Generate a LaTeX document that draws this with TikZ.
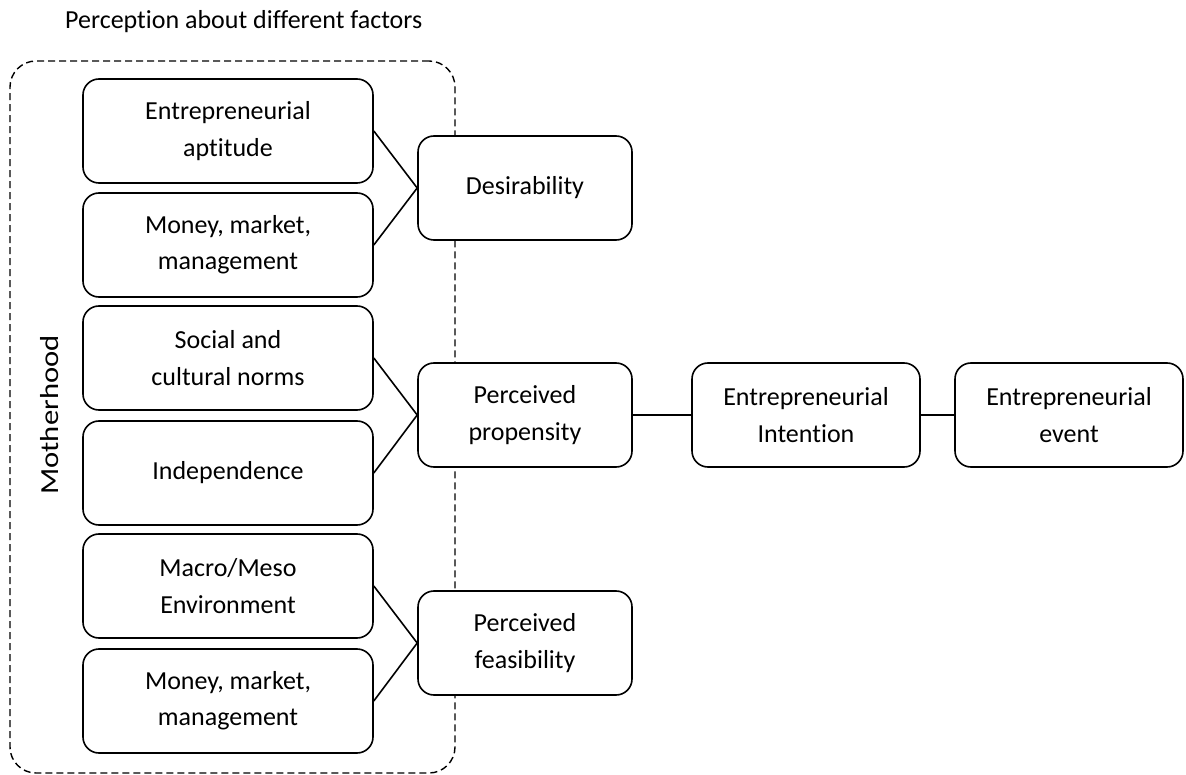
\documentclass[tikz,border=0pt]{standalone}
\usepackage{fontspec}
\setmainfont{Carlito}[Ligatures=NoCommon]
\begin{document}
\begin{tikzpicture}[x=1pt,y=-1pt,
  txt/.style={font=\fontsize{26}{36.3}\selectfont, align=center, inner sep=0pt},
  box/.style={txt, draw, line width=1.6pt, fill=white, rounded corners=16pt, minimum height=104pt},
  lbox/.style={box, minimum width=290pt},
  rbox/.style={box, minimum width=214pt},
  frame/.style={draw, line width=1.4pt, dash pattern=on 7pt off 4pt, rounded corners=26pt, minimum width=445pt, minimum height=712pt, inner sep=0pt},
  link/.style={line width=1.6pt}]
\useasboundingbox (0,0) rectangle (1186,775);
\node[frame] (frame) at (232.5,417) {};
\node[txt, anchor=base west] (title) at (65,29) {Perception about different factors};
\node[txt, rotate=90] (mother) at (50,415) {\scalebox{1.18}[1]{Motherhood}};
\node[lbox] (b1) at (228,131) {Entrepreneurial\\aptitude};
\node[lbox] (b2) at (228,245) {Money, market,\\management};
\node[lbox] (b3) at (228,358) {Social and\\cultural norms};
\node[lbox] (b4) at (228,473) {Independence};
\node[lbox] (b5) at (228,586) {Macro/Meso\\Environment};
\node[lbox] (b6) at (228,701) {Money, market,\\management};
\node[rbox] (des) at (525,188) {Desirability};
\node[rbox] (prop) at (525,415) {Perceived\\propensity};
\node[rbox] (feas) at (525,643) {Perceived\\feasibility};
\node[box, minimum width=228pt] (int) at (806,415) {Entrepreneurial\\Intention};
\node[box, minimum width=228pt] (ev) at (1069,415) {Entrepreneurial\\event};
\draw[link] (b1.east) -- (des.west) -- (b2.east);
\draw[link] (b3.east) -- (prop.west) -- (b4.east);
\draw[link] (b5.east) -- (feas.west) -- (b6.east);
\draw[link] (prop) -- (int);
\draw[link] (int) -- (ev);
\end{tikzpicture}
\end{document}
